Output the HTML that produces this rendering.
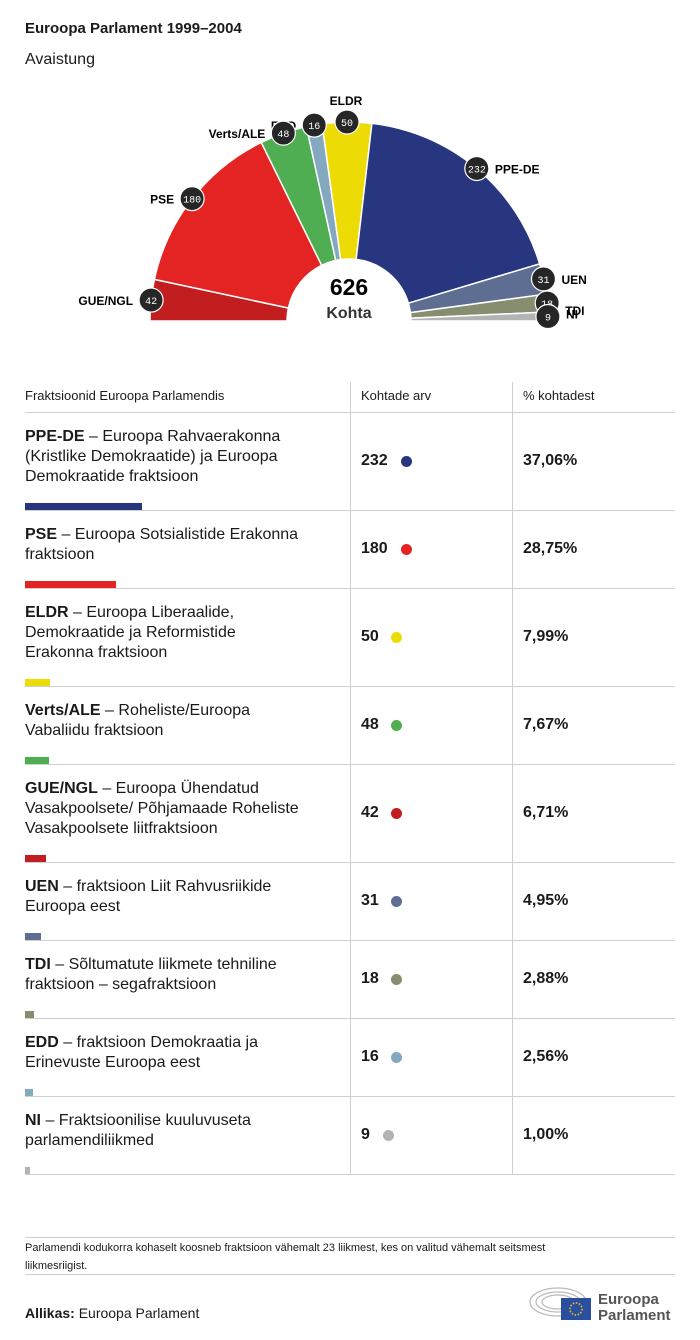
<!DOCTYPE html>
<html><head><meta charset="utf-8">
<style>
body{margin:0;background:#fff;font-family:"Liberation Sans",sans-serif;color:#1a1a1a}
#page{position:relative;width:700px;height:1340px;overflow:hidden}
.abs{position:absolute}
.row{position:absolute;left:25px;width:650px;border-bottom:1px solid #cfcfcf}
.name{position:absolute;left:0;top:14px;width:300px;font-size:16px;line-height:20px}
.bar{position:absolute;left:0;height:7px;bottom:0}
.num{position:absolute;left:336px;font-size:16px;font-weight:bold}
.dot{position:absolute;width:11px;height:11px;border-radius:50%}
.pct{position:absolute;left:498px;font-size:16px;font-weight:bold}
</style></head><body>
<div id="page">
<div class="abs" style="left:25px;top:20px;font-size:15px;font-weight:bold">Euroopa Parlament 1999–2004</div>
<div class="abs" style="left:25px;top:51px;font-size:16px">Avaistung</div>
<svg class="abs" id="chart" style="left:0;top:0" width="700" height="360"></svg>
<div class="abs" style="left:25px;top:382px;width:650px;height:30px;border-bottom:1px solid #cfcfcf">
<div class="abs" style="left:0;top:6px;font-size:13px">Fraktsioonid Euroopa Parlamendis</div>
<div class="abs" style="left:336px;top:6px;font-size:13px">Kohtade arv</div>
<div class="abs" style="left:498px;top:6px;font-size:13px">% kohtadest</div>
</div>
<div class="abs" style="left:350px;top:382px;width:1px;height:792px;background:#cfcfcf"></div>
<div class="abs" style="left:512px;top:382px;width:1px;height:792px;background:#cfcfcf"></div>
<div id="rows"></div>
<div class="abs" style="left:25px;top:1237px;width:650px;border-top:1px solid #cfcfcf;border-bottom:1px solid #cfcfcf;height:36px">
<div style="font-size:11px;line-height:18px;padding-top:1px;width:545px">Parlamendi kodukorra kohaselt koosneb fraktsioon vähemalt 23 liikmest, kes on valitud vähemalt seitsmest liikmesriigist.</div></div>
<div class="abs" style="left:25px;top:1305px;font-size:14px"><b>Allikas:</b> Euroopa Parlament</div>
<svg class="abs" style="left:528px;top:1284px" width="150" height="40">
<g fill="none" stroke="#bbb" stroke-width="1.3"><ellipse cx="30" cy="18" rx="28" ry="14"/><ellipse cx="30" cy="18" rx="22" ry="10"/><ellipse cx="30" cy="18" rx="16" ry="7"/></g>
<rect x="33" y="14" width="30" height="22" fill="#2a4fa0"/>
<circle cx="48" cy="25" r="6" fill="none" stroke="#fc0" stroke-width="1.5" stroke-dasharray="1.5 1.6"/>
<text x="70" y="20" font-size="15" fill="#555" font-weight="bold">Euroopa</text>
<text x="70" y="36" font-size="15" fill="#555" font-weight="bold">Parlament</text></svg>
</div>
<script>
const groups=["GUE/NGL","PSE","Verts/ALE","EDD","ELDR","PPE-DE","UEN","TDI","NI"];
const seats=[42,180,48,16,50,232,31,18,9];
const colors=["#c21d1f","#e42422","#4fae52","#84a8c0","#ecdb05","#27367e","#5d6e92","#878d6f","#b3b3b3"];
const tableOrder=["PPE-DE","PSE","ELDR","Verts/ALE","GUE/NGL","UEN","TDI","EDD","NI"];
const percents=["37,06%","28,75%","7,99%","7,67%","6,71%","4,95%","2,88%","2,56%","1,00%"];
const descriptions=[" – Euroopa Rahvaerakonna (Kristlike Demokraatide) ja Euroopa Demokraatide fraktsioon"," – Euroopa Sotsialistide Erakonna fraktsioon"," – Euroopa Liberaalide, Demokraatide ja Reformistide<br>Erakonna fraktsioon"," – Roheliste/Euroopa<br>Vabaliidu fraktsioon"," – Euroopa Ühendatud Vasakpoolsete/ Põhjamaade Roheliste Vasakpoolsete liitfraktsioon"," – fraktsioon Liit Rahvusriikide Euroopa eest"," – Sõltumatute liikmete tehniline fraktsioon – segafraktsioon"," – fraktsioon Demokraatia ja Erinevuste Euroopa eest"," – Fraktsioonilise kuuluvuseta parlamendiliikmed"];
const rowHeights=[98,78,98,78,98,78,78,78,78];
const NS="http://www.w3.org/2000/svg";
const svg=document.getElementById('chart');
const cx=349,cy=321,R=199,r0=62;
const total=seats.reduce((a,b)=>a+b,0);
function ang(v){return Math.PI-(v/total)*Math.PI;}
function pt(rad,a){return [cx+rad*Math.cos(a),cy-rad*Math.sin(a)];}
let cum=0;const mids=[];
groups.forEach((g,i)=>{
 const a0=ang(cum),a1=ang(cum+seats[i]);
 const p1=pt(R,a0),p2=pt(R,a1),p3=pt(r0,a1),p4=pt(r0,a0);
 const p=document.createElementNS(NS,'path');
 p.setAttribute('d',`M${p1}A${R},${R} 0 0 1 ${p2}L${p3}A${r0},${r0} 0 0 0 ${p4}Z`);
 p.setAttribute('fill',colors[i]);p.setAttribute('stroke','#fff');p.setAttribute('stroke-width','1.5');
 
 
 svg.appendChild(p);
 mids.push(ang(cum+seats[i]/2));cum+=seats[i];
});
groups.forEach((g,i)=>{
 const [x,y]=pt(R,mids[i]);
 const t=document.createElementNS(NS,'text');
 const deg=mids[i]*180/Math.PI;
 if(deg>95){t.setAttribute('x',x-18);t.setAttribute('y',y+5);t.setAttribute('text-anchor','end');}
 else if(deg>85){t.setAttribute('x',x-1);t.setAttribute('y',y-17);t.setAttribute('text-anchor','middle');}
 else{t.setAttribute('x',x+18);t.setAttribute('y',y+(deg<4?2:(deg<8?12:5)));}
 t.setAttribute('font-size','12');t.setAttribute('font-weight','bold');t.textContent=g;
 
 
 svg.appendChild(t);
});
groups.forEach((g,i)=>{
 const [x,y]=pt(R,mids[i]);
 const c=document.createElementNS(NS,'circle');
 c.setAttribute('cx',x);c.setAttribute('cy',y);c.setAttribute('r',12);c.setAttribute('fill','#262626');c.setAttribute('stroke','#fff');c.setAttribute('stroke-width','1.2');
 
 
 svg.appendChild(c);
 const t=document.createElementNS(NS,'text');
 t.setAttribute('x',x);t.setAttribute('y',y+4);t.setAttribute('text-anchor','middle');t.setAttribute('fill','#fff');t.setAttribute('font-size','10');t.setAttribute('font-family','Liberation Mono, monospace');t.textContent=seats[i];
 
 
 svg.appendChild(t);
});
const tt=document.createElementNS(NS,'text');
tt.setAttribute('x',cx);tt.setAttribute('y',cy-26);tt.setAttribute('text-anchor','middle');tt.setAttribute('font-size','23');tt.setAttribute('font-weight','bold');tt.textContent=total;


svg.appendChild(tt);
const tk=document.createElementNS(NS,'text');
tk.setAttribute('x',cx);tk.setAttribute('y',cy-3);tk.setAttribute('text-anchor','middle');tk.setAttribute('font-size','16');tk.setAttribute('font-weight','bold');tk.setAttribute('fill','#333');tk.textContent='Kohta';


svg.appendChild(tk);
const rowsEl=document.getElementById('rows');
let yPos=413;
tableOrder.forEach((g,k)=>{
 const i=groups.indexOf(g),h=rowHeights[k];
 const row=document.createElement('div');row.className='row';
 row.style.top=yPos+'px';row.style.height=(h-1)+'px';
 
 
 const mid=(h-1)/2;
 row.innerHTML=`<div class="name"><b>${g}</b>${descriptions[k]}</div><div class="bar" style="width:${seats[i]*0.504}px;background:${colors[i]}"></div><div class="num" style="top:${mid-10}px">${seats[i]}</div><div class="dot" style="left:${seats[i]>=100?376:(seats[i]>=10?366:358)}px;top:${mid-6}px;background:${colors[i]}"></div><div class="pct" style="top:${mid-10}px">${percents[k]}</div>`;
 rowsEl.appendChild(row);yPos+=h;
});
</script>
</body></html>
